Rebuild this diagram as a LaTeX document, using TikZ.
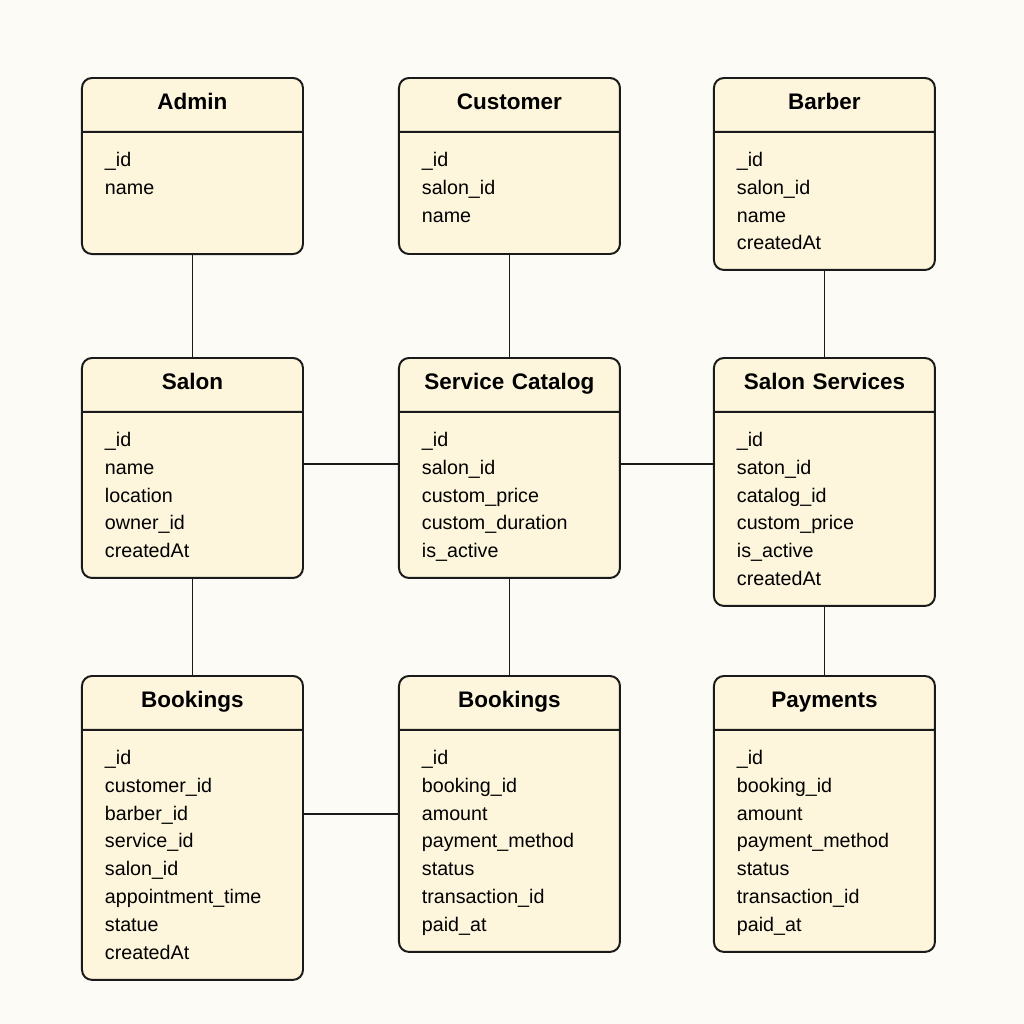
\documentclass[tikz,border=0pt]{standalone}
\usepackage{fontspec}
\setmainfont{Liberation Sans}
\usetikzlibrary{positioning, shapes.multipart}
\definecolor{paper}{HTML}{FCFBF6}
\definecolor{cream}{HTML}{FDF5DC}
\definecolor{ink}{HTML}{1A1A1A}

\begin{document}
\begin{tikzpicture}[
        entity/.style={
            rectangle split, rectangle split parts=2,
            draw=ink, fill=cream, line width=1.4pt, rounded corners=0.25cm,
            text width=4.375cm, align=center,
            inner xsep=0.575cm, inner ysep=0.34cm,
            font=\fontsize{16}{17.6}\selectfont\bfseries,
            execute at begin node=\strut,
            execute at end node={\rule[-0.135cm]{0pt}{0pt}},
            every two node part/.style={
                align=left, font=\fontsize{14}{19.9}\selectfont
            }
        },
        link/.style={draw=ink, line width=1.1pt},
    ]
        \fill [paper] (-2.025,1.925) rectangle (23.575,-23.675);
        \useasboundingbox (-2.025,1.925) rectangle (23.575,-23.675);

        % Top row
        \node [entity, anchor=north west] (admin) at (0,0)
            {Admin\nodepart{two}\_id\\ name\rule[-1.135cm]{0pt}{0pt}};
        \node [entity, right=2.35cm of admin.north east, anchor=north west] (customer)
            {Customer\nodepart{two}\_id\\ salon\_id\\ name\rule[-0.435cm]{0pt}{0pt}};
        \node [entity, right=2.3cm of customer.north east, anchor=north west] (barber)
            {Barber\nodepart{two}\_id\\ salon\_id\\ name\\ createdAt};

        % Middle row
        \node [entity, below=7cm of admin.north west, anchor=north west] (salon)
            {Salon\nodepart{two}\_id\\ name\\ location\\ owner\_id\\ createdAt};
        \node [entity, right=2.35cm of salon.north east, anchor=north west] (catalog)
            {Service Catalog\nodepart{two}\_id\\ salon\_id\\ custom\_price\\ custom\_duration\\ is\_active};
        \node [entity, right=2.3cm of catalog.north east, anchor=north west] (services)
            {Salon Services\nodepart{two}\_id\\ saton\_id\\ catalog\_id\\ custom\_price\\ is\_active\\ createdAt};

        % Bottom row
        \node [entity, below=7.95cm of salon.north west, anchor=north west] (bookings)
            {Bookings\nodepart{two}\_id\\ customer\_id\\ barber\_id\\ service\_id\\ salon\_id\\ appointment\_time\\ statue\\ createdAt};
        \node [entity, right=2.35cm of bookings.north east, anchor=north west] (bookings2)
            {Bookings\nodepart{two}\_id\\ booking\_id\\ amount\\ payment\_method\\ status\\ transaction\_id\\ paid\_at};
        \node [entity, right=2.3cm of bookings2.north east, anchor=north west] (payments)
            {Payments\nodepart{two}\_id\\ booking\_id\\ amount\\ payment\_method\\ status\\ transaction\_id\\ paid\_at};

        % Links
        \coordinate (rowlink) at ([yshift=0.1cm]salon.east);
        \draw [link] (admin) -- (salon);
        \draw [link] (customer) -- (catalog);
        \draw [link] (barber) -- (services);
        \draw [link] (rowlink) -- (rowlink -| catalog.west);
        \draw [link] (rowlink -| catalog.east) -- (rowlink -| services.west);
        \draw [link] (salon) -- (bookings);
        \draw [link] (catalog) -- (bookings2);
        \draw [link] (services) -- (payments);
        \draw [link] (bookings.east |- bookings2.west) -- (bookings2.west);
\end{tikzpicture}
\end{document}
